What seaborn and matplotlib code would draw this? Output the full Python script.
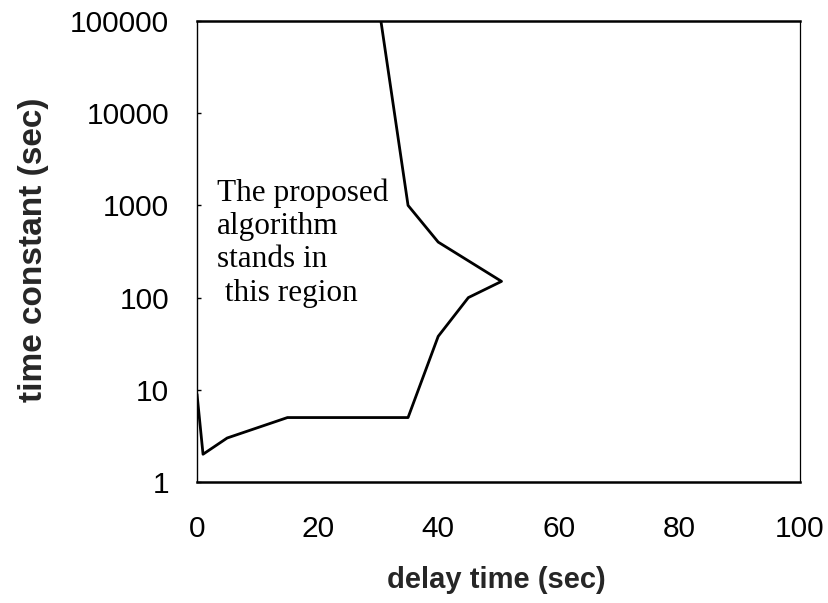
import matplotlib
matplotlib.use("Agg")
import matplotlib.pyplot as plt
import seaborn as sns
import pandas as pd
from matplotlib.ticker import FixedLocator, FixedFormatter, NullLocator

# Data: boundary of the region (path order)
delay_time = [0, 1, 5, 15, 35, 40, 45, 50.5, 40, 35, 30.5]
time_constant = [9, 2, 3, 5, 5, 38, 100, 150, 400, 1000, 100000]

x_ticks = [0, 20, 40, 60, 80, 100]
y_ticks = [1, 10, 100, 1000, 10000, 100000]
y_tick_labels = ["1", "10", "100", "1000", "10000", "100000"]

sns.set_theme(style="white")
plt.rcParams['font.family'] = ['Liberation Sans', 'DejaVu Sans']

df = pd.DataFrame({"delay": delay_time, "tc": time_constant})

fig = plt.figure(figsize=(8.29, 6.03), dpi=100)
ax = fig.add_axes([197/829, 1-482/603, (800-197)/829, (482-21)/603])

sns.lineplot(data=df, x="delay", y="tc", sort=False, estimator=None,
             color="black", linewidth=2.0, ax=ax)

ax.set_yscale("log")
ax.set_xlim(0, 100)
ax.set_ylim(1, 100000)
ax.yaxis.set_major_locator(FixedLocator(y_ticks))
ax.yaxis.set_major_formatter(FixedFormatter(y_tick_labels))
ax.yaxis.set_minor_locator(NullLocator())
ax.set_xticks(x_ticks)
ax.set_xticklabels([str(v) for v in x_ticks])

ax.tick_params(axis="y", which="major", length=3, direction="in", width=1,
               labelsize=21.5, pad=20, left=True, colors="black")
ax.tick_params(axis="x", which="major", length=0, labelsize=21.5, pad=24,
               colors="black")

for side, lw in [("top", 1.8), ("bottom", 1.8), ("left", 1.0), ("right", 0.9)]:
    ax.spines[side].set_visible(True)
    ax.spines[side].set_color("black")
    ax.spines[side].set_linewidth(lw)

ax.set_xlabel("")
ax.set_ylabel("")
ax.grid(False)

fig.text(496/829, 1-580/603, "delay time (sec)", ha="center", va="center",
         fontsize=21, fontweight="bold")
fig.text(34/829, 1-250/603, "time constant (sec)", ha="center", va="center",
         rotation=90, fontsize=24, fontweight="bold")

ax.text((217-197)/603, (482-178)/461, "The proposed\nalgorithm\nstands in\n this region",
        transform=ax.transAxes, ha="left", va="top",
        fontsize=22.5, family=["Liberation Serif", "DejaVu Serif"],
        linespacing=1.2, color="black")

fig.savefig("out.png", dpi=100, facecolor="white")
